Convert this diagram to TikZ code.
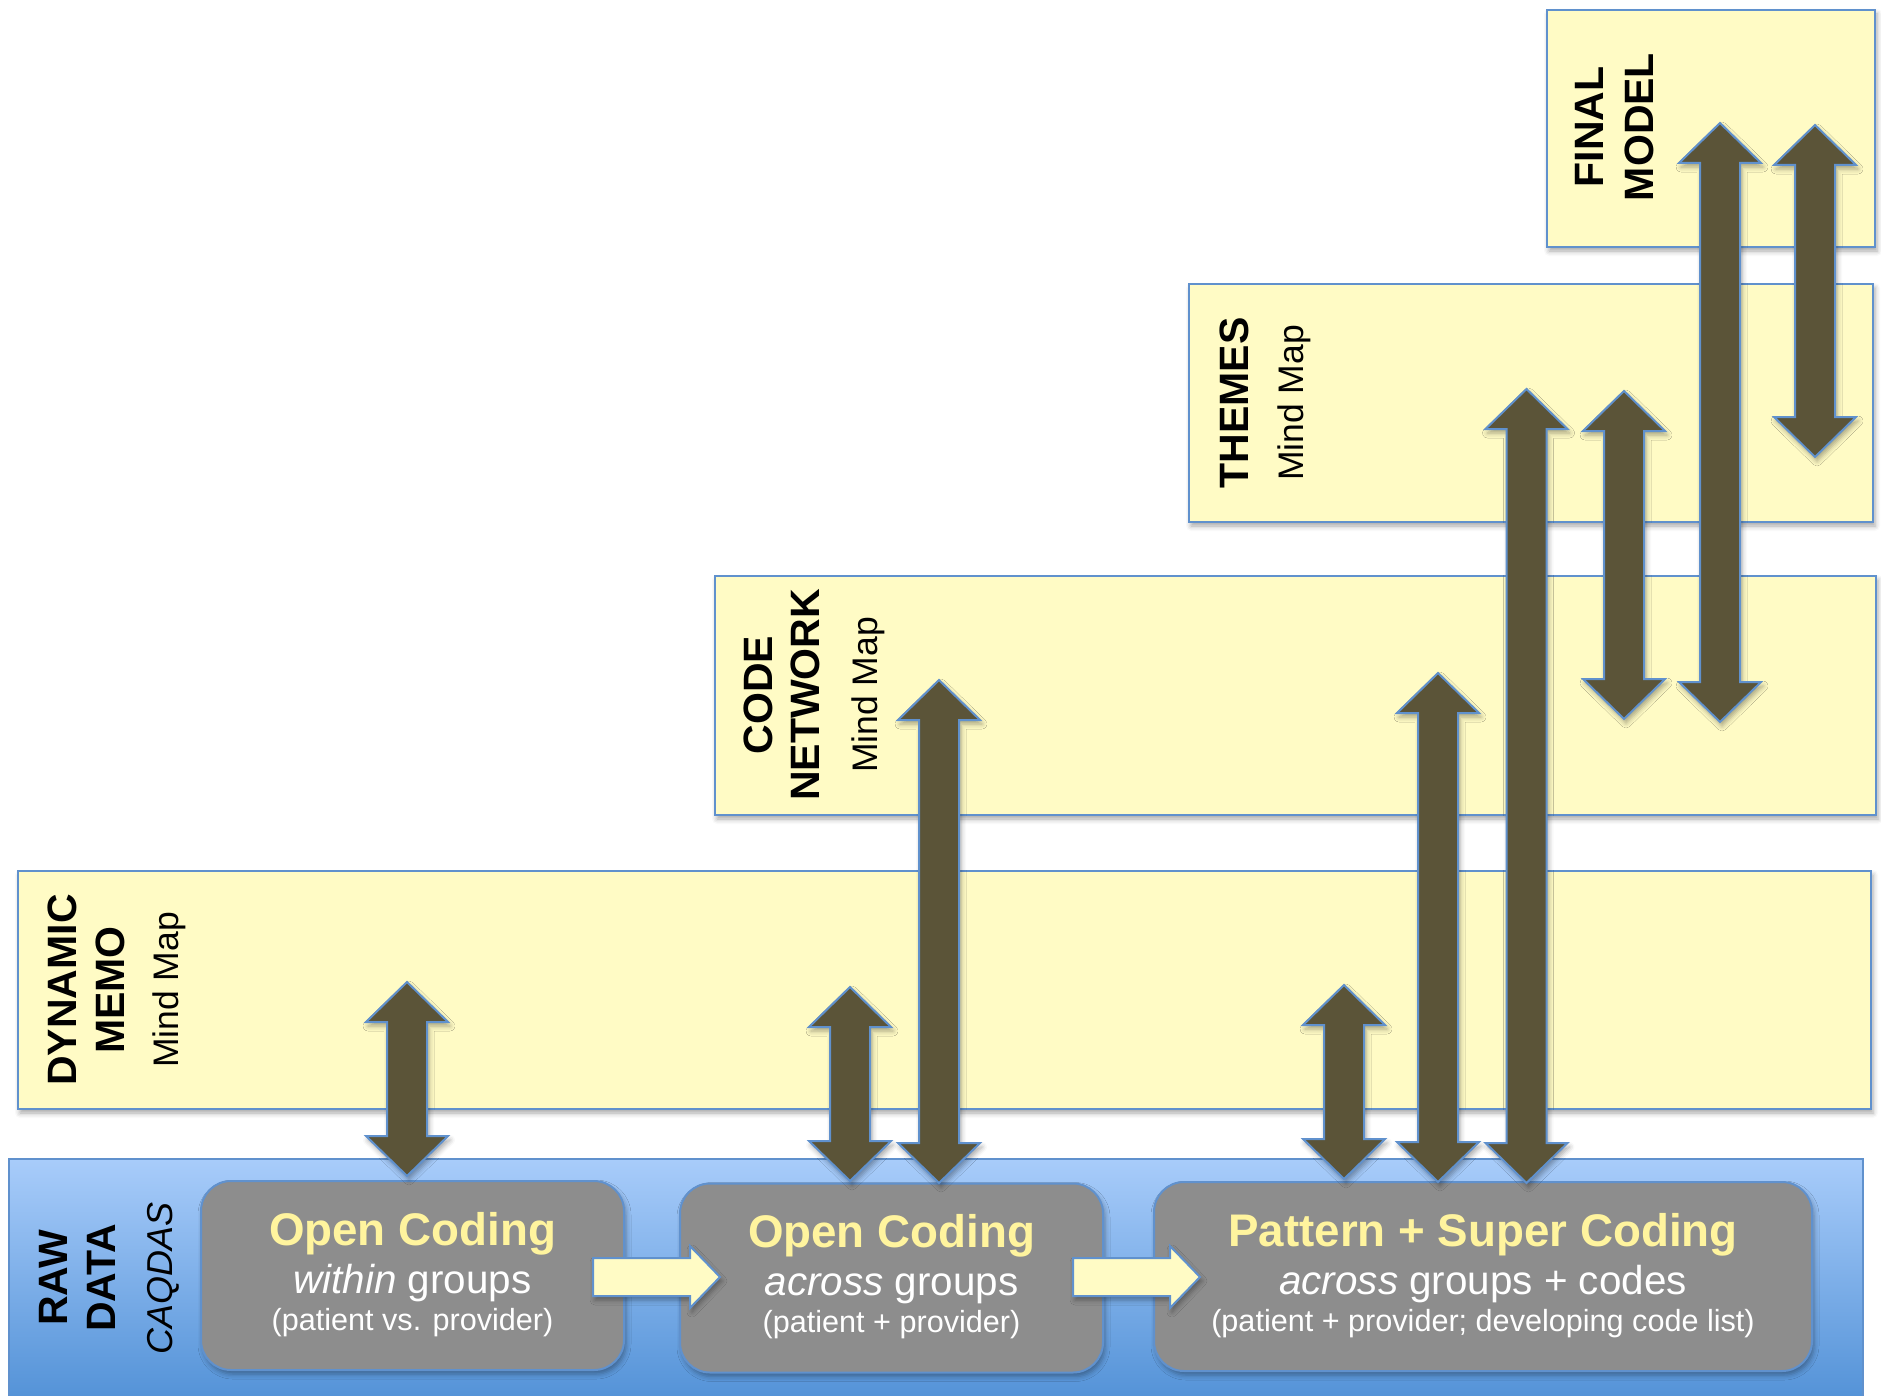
\documentclass[tikz,border=0pt]{standalone}
\usepackage{fontspec}
\setmainfont{Liberation Sans}
\usetikzlibrary{shadows.blur,calc}

\definecolor{memoyellow}{RGB}{255,251,197}
\definecolor{edgeblue}{RGB}{96,145,205}
\definecolor{arrowbrown}{RGB}{91,84,56}
\definecolor{stepgray}{RGB}{141,141,141}
\definecolor{titleyellow}{RGB}{255,244,158}
\definecolor{rawtop}{RGB}{168,204,250}
\definecolor{rawbottom}{RGB}{80,144,214}

\tikzset{
  softshadow/.style={blur shadow={shadow xshift=2pt, shadow yshift=-4pt,
      shadow blur radius=5pt, shadow opacity=35}},
  layerbox/.style={draw=edgeblue, line width=2pt, fill=memoyellow,
      softshadow, inner sep=0pt, outer sep=0pt},
  rawbox/.style={draw=edgeblue, line width=2pt, top color=rawtop,
      bottom color=rawbottom, inner sep=0pt, outer sep=0pt},
  stepbox/.style={draw=edgeblue, line width=2pt, fill=stepgray,
      rounded corners=30pt, softshadow, inner sep=0pt, outer sep=0pt,
      minimum height=189pt},
  layertitle/.style={font=\fontsize{41}{41}\selectfont\bfseries,
      rotate=90, anchor=base, inner sep=0pt},
  layertool/.style={font=\fontsize{35.5}{35.5}\selectfont,
      rotate=90, anchor=base, inner sep=0pt},
  steptitle/.style={font=\fontsize{45.7}{46}\selectfont\bfseries,
      text=titleyellow, anchor=base, inner sep=0pt},
  stepsub/.style={font=\fontsize{40.4}{41}\selectfont, text=white,
      anchor=base, inner sep=0pt},
  stepnote/.style={font=\fontsize{30.6}{31}\selectfont, text=white,
      anchor=base, inner sep=0pt},
  brownarrow/.style={fill=arrowbrown, draw=edgeblue, line width=2pt,
      line join=miter, softshadow},
  flowstyle/.style={fill=memoyellow, draw=edgeblue, line width=2pt,
      line join=miter, softshadow},
}

% two-headed vertical block arrow between a top tip and a bottom tip
\newcommand\bothwayarrow[2]{%
  \path[brownarrow] let \p1=(#1), \p2=(#2) in
    (\x1,\y1) -- (\x1+41pt,\y1-40pt) -- (\x1+20pt,\y1-40pt)
    -- (\x1+20pt,\y2+40pt) -- (\x1+41pt,\y2+40pt) -- (\x1,\y2)
    -- (\x1-41pt,\y2+40pt) -- (\x1-20pt,\y2+40pt)
    -- (\x1-20pt,\y1-40pt) -- (\x1-41pt,\y1-40pt) -- cycle;}

% horizontal block arrow pointing right, from tail to tip
\newcommand\flowarrow[2]{%
  \path[flowstyle] let \p1=(#1), \p2=(#2) in
    (\x1,\y1+19pt) -- (\x2-30pt,\y1+19pt) -- (\x2-30pt,\y1+31pt)
    -- (\x2,\y1) -- (\x2-30pt,\y1-31pt) -- (\x2-30pt,\y1-19pt)
    -- (\x1,\y1-19pt) -- cycle;}

\begin{document}
\begin{tikzpicture}[x=1pt, y=-1pt]
\useasboundingbox (0,0) rectangle (1881,1396);

% stacked analysis layers
\node[layerbox, minimum width=328pt, minimum height=237pt] (final) at (1711,128.5) {};
\node[layerbox, minimum width=684pt, minimum height=238pt] (themes) at (1531,403) {};
\node[layerbox, minimum width=1161pt, minimum height=239pt] (network) at (1295.5,695.5) {};
\node[layerbox, minimum width=1853pt, minimum height=238pt] (memo) at (944.5,990) {};

% raw data band with the three coding steps
\node[rawbox, minimum width=1854pt, minimum height=250pt] (raw) at (936,1284) {};
\node[stepbox, minimum width=423pt] (g1) at (412.5,1275.5) {};
\node[stepbox, minimum width=423pt] (g2) at (891.5,1278) {};
\node[stepbox, minimum width=658pt] (g3) at (1483,1276.5) {};

% layer labels
\node[layertitle] (finalA) at (1603,127) {FINAL};
\node[layertitle] (finalB) at (1653,127) {MODEL};
\node[layertitle] (themesA) at (1248,403) {THEMES};
\node[layertool] (themesB) at (1303,403) {Mind Map};
\node[layertitle] (netA) at (772,695) {CODE};
\node[layertitle] (netB) at (819,695) {NETWORK};
\node[layertool] (netC) at (877,695) {Mind Map};
\node[layertitle] (memoA) at (76,990) {DYNAMIC};
\node[layertitle] (memoB) at (124,990) {MEMO};
\node[layertool] (memoC) at (178,990) {Mind Map};
\node[layertitle] (rawA) at (67,1278) {RAW};
\node[layertitle] (rawB) at (115,1278) {DATA};
\node[layertool, font=\fontsize{36}{36}\selectfont\itshape] (rawC) at (172,1278) {CAQDAS};

% coding step texts
\node[steptitle] (g1a) at ($(g1.north)+(0,64)$) {Open Coding};
\node[stepsub]   (g1b) at ($(g1.north)+(0,112)$) {{\itshape within} groups};
\node[stepnote]  (g1c) at ($(g1.north)+(0,149)$) {(patient vs. provider)};
\node[steptitle] (g2a) at ($(g2.north)+(0,64)$) {Open Coding};
\node[stepsub]   (g2b) at ($(g2.north)+(0,112)$) {{\itshape across} groups};
\node[stepnote]  (g2c) at ($(g2.north)+(0,149)$) {(patient + provider)};
\node[steptitle] (g3a) at ($(g3.north)+(0,64)$) {Pattern + Super Coding};
\node[stepsub]   (g3b) at ($(g3.north)+(0,112)$) {{\itshape across} groups + codes};
\node[stepnote]  (g3c) at ($(g3.north)+(0,149)$) {(patient + provider; developing code list)};

% flow between coding steps
\coordinate (f1s) at (593,1277);
\coordinate (f1e) at (720,1277);
\coordinate (f2s) at (1073,1277);
\coordinate (f2e) at (1200,1277);
\flowarrow{f1s}{f1e}
\flowarrow{f2s}{f2e}

% exchange between layers
\coordinate (a1t) at (407,982);    \coordinate (a1b) at (407,1176);
\coordinate (a2t) at (850,987);    \coordinate (a2b) at (850,1181);
\coordinate (a3t) at (939,680);    \coordinate (a3b) at (939,1183);
\coordinate (a4t) at (1344,985);   \coordinate (a4b) at (1344,1179);
\coordinate (a5t) at (1438,673);   \coordinate (a5b) at (1438,1182);
\coordinate (a6t) at (1526.5,389); \coordinate (a6b) at (1526.5,1183);
\coordinate (a7t) at (1624,391);   \coordinate (a7b) at (1624,719);
\coordinate (a8t) at (1720,123);   \coordinate (a8b) at (1720,722);
\coordinate (a9t) at (1815,125);   \coordinate (a9b) at (1815,457);
\bothwayarrow{a1t}{a1b}
\bothwayarrow{a2t}{a2b}
\bothwayarrow{a3t}{a3b}
\bothwayarrow{a4t}{a4b}
\bothwayarrow{a5t}{a5b}
\bothwayarrow{a6t}{a6b}
\bothwayarrow{a7t}{a7b}
\bothwayarrow{a8t}{a8b}
\bothwayarrow{a9t}{a9b}
\end{tikzpicture}
\end{document}
